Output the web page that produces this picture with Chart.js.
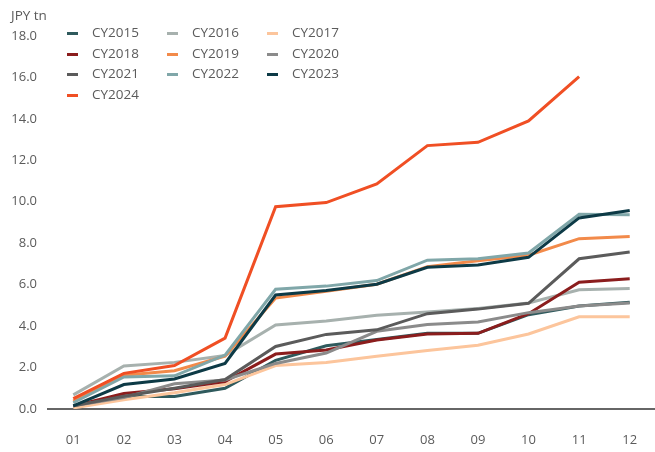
<!DOCTYPE html>
<html lang="en">
  <head>
    <meta charset="UTF-8" />
    <title>JPY tn</title>
    <script src="https://cdn.jsdelivr.net/npm/chart.js"></script>
    <style>
      body { margin: 0; background: #fff; font-family: "Open Sans", sans-serif; }
      #wrap { position: relative; width: 655px; height: 452px; }
      #unit { position: absolute; left: 11px; top: 6px; font-size: 13.5px; color: #5b5b5b; }
      #legend { position: absolute; left: 67px; top: 22px; width: 310px; }
      .item { position: absolute; height: 20px; line-height: 20px; font-size: 13.5px; color: #5b5b5b; }
      .item span { display: inline-block; width: 11px; height: 3px; vertical-align: middle; margin-right: 14px; }
    </style>
  </head>
  <body>
    <div id="wrap">
      <canvas id="grafica" width="655" height="452"></canvas>
      <div id="unit">JPY tn</div>
      <div id="legend"></div>
    </div>
    <script>
      const months = ["01", "02", "03", "04", "05", "06", "07", "08", "09", "10", "11", "12"];
      const yTicks = [0, 2, 4, 6, 8, 10, 12, 14, 16, 18];

      const cy2015 = [0.15, 0.6, 0.6, 1.0, 2.35, 3.05, 3.35, 3.65, 3.65, 4.55, 4.97, 5.15];
      const cy2016 = [0.68, 2.08, 2.25, 2.58, 4.05, 4.25, 4.52, 4.68, 4.85, 5.12, 5.75, 5.82];
      const cy2017 = [0.05, 0.45, 0.78, 1.18, 2.1, 2.24, 2.55, 2.82, 3.08, 3.62, 4.45, 4.45];
      const cy2018 = [0.15, 0.75, 0.98, 1.32, 2.65, 2.85, 3.33, 3.62, 3.65, 4.6, 6.12, 6.28];
      const cy2019 = [0.38, 1.63, 1.85, 2.55, 5.35, 5.68, 6.02, 6.87, 7.15, 7.42, 8.22, 8.32];
      const cy2020 = [0.15, 0.55, 1.22, 1.4, 2.2, 2.7, 3.75, 4.08, 4.2, 4.65, 4.97, 5.12];
      const cy2021 = [0.15, 0.62, 1.0, 1.42, 3.02, 3.6, 3.82, 4.6, 4.82, 5.1, 7.25, 7.58];
      const cy2022 = [0.3, 1.55, 1.6, 2.6, 5.78, 5.93, 6.2, 7.18, 7.25, 7.53, 9.4, 9.38];
      const cy2023 = [0.15, 1.18, 1.45, 2.2, 5.5, 5.72, 6.02, 6.84, 6.95, 7.32, 9.22, 9.58];
      const cy2024 = [0.5, 1.72, 2.1, 3.42, 9.76, 9.96, 10.86, 12.71, 12.87, 13.9, 16.04, null];

      const series = [
        ["CY2015", cy2015, "#2f5a5d"],
        ["CY2016", cy2016, "#a7b1ae"],
        ["CY2017", cy2017, "#fcc59c"],
        ["CY2018", cy2018, "#8b1d1d"],
        ["CY2019", cy2019, "#f28a4a"],
        ["CY2020", cy2020, "#8b8b8b"],
        ["CY2021", cy2021, "#5b5b5b"],
        ["CY2022", cy2022, "#80a7a9"],
        ["CY2023", cy2023, "#0d3a46"],
        ["CY2024", cy2024, "#f04f24"],
      ];

      Chart.defaults.font.family = "'Open Sans', sans-serif";
      Chart.defaults.font.size = 13;
      Chart.defaults.color = "#5b5b5b";

      var ctx = document.getElementById("grafica").getContext("2d");
      var chart = new Chart(ctx, {
        type: "line",
        data: {
          labels: months,
          datasets: series.map(function (s, i) {
            return {
              label: s[0],
              data: s[1],
              borderColor: s[2],
              backgroundColor: s[2],
              borderWidth: 3,
              pointRadius: 0,
              tension: 0,
              fill: false,
              order: series.length - i,
            };
          }),
        },
        options: {
          responsive: false,
          animation: false,
          layout: { padding: { left: 0, right: 0, top: 36, bottom: 0 } },
          plugins: { legend: { display: false }, tooltip: { enabled: false } },
          scales: {
            x: {
              offset: true,
              // invisible tick marks push the labels down without adding side padding
              grid: { display: true, drawOnChartArea: false, drawTicks: true, tickLength: 21, color: "rgba(0,0,0,0)" },
              border: { display: true, color: "#666666", width: 2 },
              ticks: { padding: 2, maxRotation: 0 },
              afterFit: function (scale) { scale.height = 43; },
            },
            y: {
              min: 0,
              max: 18,
              grid: { display: false, drawTicks: false },
              border: { display: false },
              afterBuildTicks: function (scale) {
                scale.ticks = yTicks.map(function (v) { return { value: v }; });
              },
              ticks: {
                padding: 11,
                callback: function (v) { return Number(v).toFixed(1); },
              },
              afterFit: function (scale) { scale.width = 48; },
            },
          },
        },
      });

      // legend in three columns, built from the chart's datasets
      var legend = document.getElementById("legend");
      chart.data.datasets.forEach(function (ds, i) {
        var el = document.createElement("div");
        el.className = "item";
        el.style.left = (i % 3) * 100 + "px";
        el.style.top = Math.floor(i / 3) * 20.7 + "px";
        el.innerHTML = '<span style="background:' + ds.borderColor + '"></span>' + ds.label;
        legend.appendChild(el);
      });
    </script>
  </body>
</html>
